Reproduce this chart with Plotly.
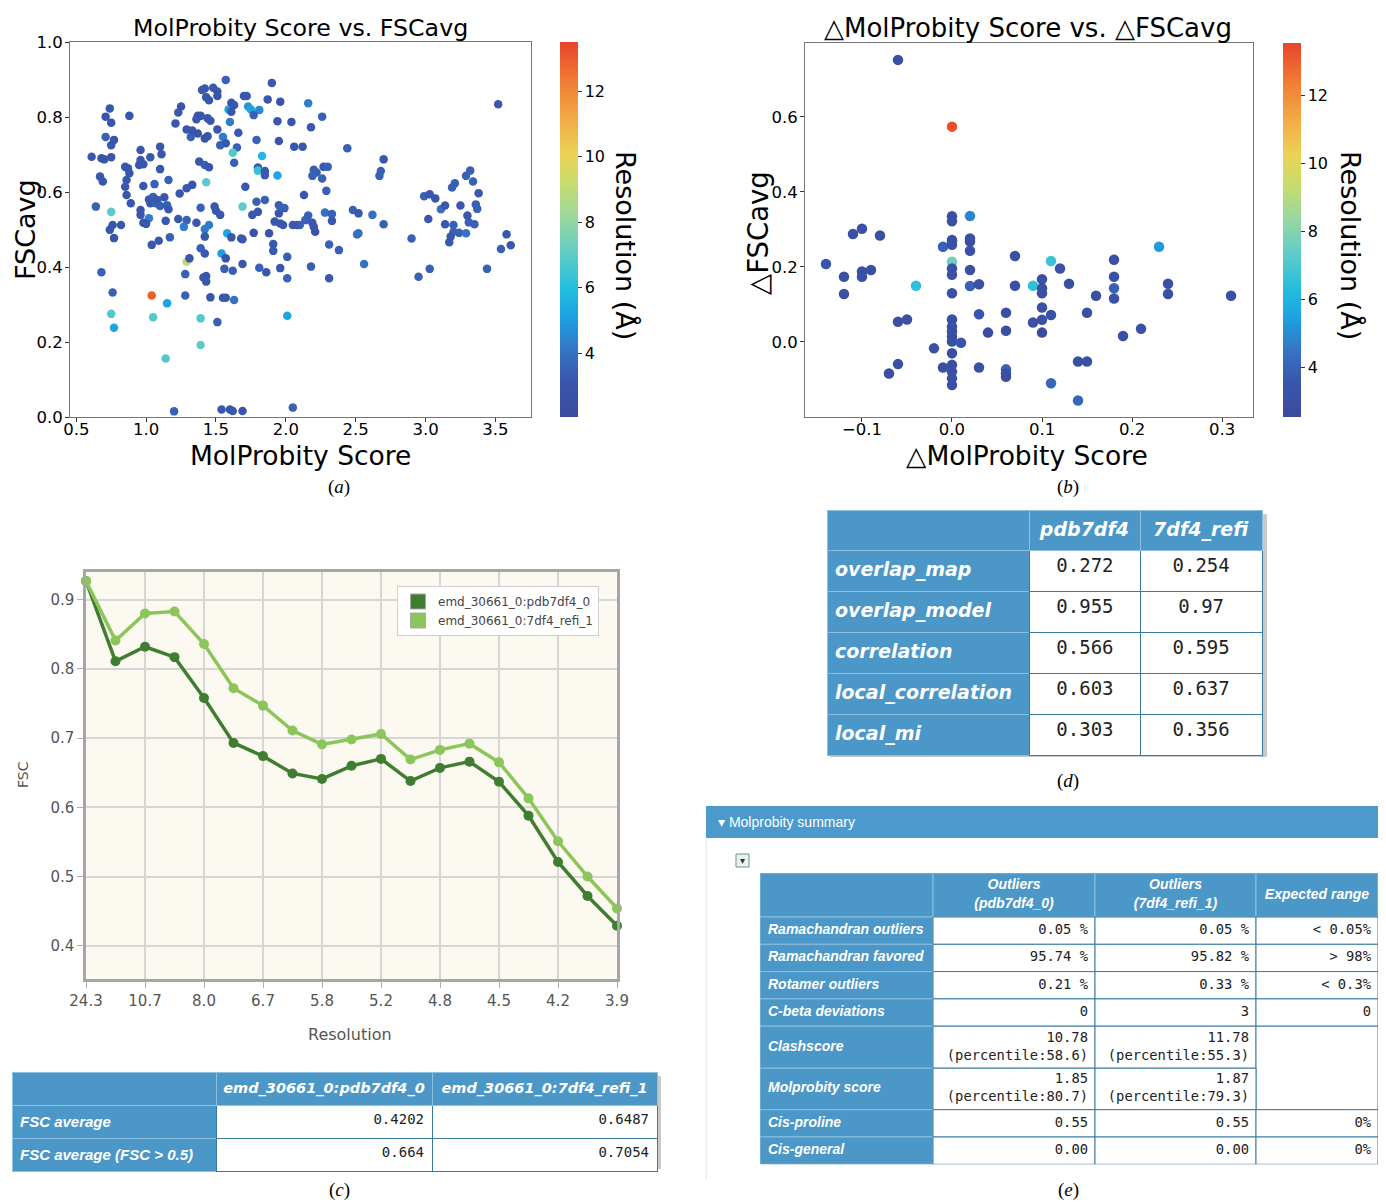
import plotly.graph_objects as go

W, H = 1386, 1202
OFF = 8  # the page body margin shifts the figure by 8 px
def fx(p): return (p - OFF) / W
def fy(p): return 1 - (p - OFF) / H

# ---------------- Panel (a): MolProbity score vs FSCavg ----------------
mp_score = [
    0.61,0.64,0.67,0.69,0.68,0.70,0.71,0.71,0.74,0.75,
    0.75,0.77,0.75,0.75,0.76,0.74,0.77,0.82,0.88,0.85,
    0.87,0.88,0.86,0.85,0.86,0.89,0.96,0.96,0.95,0.98,
    1.03,1.10,1.11,1.10,0.98,1.06,1.16,0.96,0.96,0.98,
    1.02,1.00,1.02,1.05,1.03,1.07,1.08,1.10,1.13,1.15,
    1.16,1.14,1.21,1.23,1.25,1.29,1.32,1.33,1.37,1.36,
    1.37,1.39,1.42,1.44,1.44,1.46,1.40,1.42,1.48,1.43,
    1.45,1.51,1.51,1.57,1.51,1.53,1.55,1.57,1.60,1.59,
    1.61,1.61,1.63,1.65,1.62,1.63,1.66,1.70,1.72,1.73,
    1.75,1.81,1.77,1.79,1.83,1.87,1.90,1.96,1.94,1.95,
    2.04,2.06,2.12,1.80,1.80,1.85,1.85,1.94,1.38,1.42,
    1.45,1.43,1.69,1.71,1.79,1.85,1.80,1.76,1.95,1.99,
    1.95,1.92,1.96,1.98,2.08,1.39,1.49,1.50,1.53,1.23,
    1.29,1.27,1.36,1.33,1.29,1.24,1.42,1.45,1.58,1.68,
    1.77,1.88,
    2.16,2.26,2.18,2.44,2.70,2.68,2.67,3.52,2.20,2.22,
    2.19,2.27,2.30,2.26,2.29,2.13,2.28,2.33,2.33,2.48,
    2.52,2.62,2.70,2.51,2.52,2.16,2.14,2.19,2.20,2.21,
    2.10,2.05,2.90,2.99,3.03,3.07,3.02,3.11,3.14,3.19,
    3.21,3.25,3.29,3.32,3.34,3.38,3.36,3.37,3.30,3.31,
    3.35,3.14,3.20,3.20,3.24,3.29,3.18,3.58,2.31,2.38,
    2.18,2.31,2.56,2.95,3.03,3.17,3.44,3.54,3.61,2.05,
    0.68,0.76,0.75,0.77,1.04,1.05,1.15,1.14,1.20,1.04,
    1.09,1.17,1.29,1.31,1.28,1.28,1.39,1.39,1.39,1.42,
    1.42,1.41,1.43,1.43,1.46,1.51,1.54,1.57,1.56,1.55,
    1.57,1.63,1.62,1.61,1.69,1.69,1.81,1.86,1.91,1.91,
    1.96,2.01,2.01,2.01,1.54,1.60,1.62,1.69,
]
fsc_avg = [
    0.694,0.561,0.641,0.628,0.690,0.687,0.747,0.801,0.823,0.785,
    0.725,0.739,0.693,0.547,0.512,0.499,0.477,0.512,0.803,0.667,
    0.663,0.650,0.632,0.614,0.592,0.570,0.712,0.685,0.672,0.674,
    0.693,0.721,0.701,0.661,0.616,0.621,0.632,0.552,0.539,0.518,
    0.530,0.515,0.580,0.587,0.570,0.570,0.579,0.563,0.586,0.565,
    0.554,0.523,0.783,0.812,0.828,0.767,0.747,0.764,0.756,0.794,
    0.803,0.803,0.743,0.749,0.797,0.790,0.872,0.876,0.878,0.853,
    0.845,0.868,0.856,0.899,0.767,0.725,0.747,0.730,0.787,0.820,
    0.814,0.838,0.832,0.719,0.705,0.678,0.758,0.856,0.856,0.828,
    0.820,0.819,0.805,0.739,0.696,0.847,0.891,0.841,0.789,0.736,
    0.787,0.721,0.721,0.665,0.657,0.656,0.645,0.644,0.681,0.672,
    0.666,0.626,0.561,0.614,0.574,0.579,0.547,0.539,0.565,0.557,
    0.543,0.521,0.516,0.512,0.512,0.558,0.561,0.550,0.539,0.528,
    0.525,0.507,0.518,0.619,0.610,0.596,0.501,0.512,0.490,0.476,
    0.491,0.490,
    0.837,0.801,0.773,0.717,0.687,0.656,0.643,0.834,0.659,0.652,
    0.643,0.667,0.667,0.636,0.603,0.592,0.545,0.541,0.523,0.552,
    0.543,0.539,0.514,0.487,0.490,0.537,0.525,0.518,0.507,0.494,
    0.512,0.512,0.476,0.589,0.594,0.583,0.528,0.554,0.564,0.612,
    0.623,0.564,0.643,0.657,0.628,0.597,0.567,0.555,0.537,0.519,
    0.514,0.514,0.512,0.494,0.491,0.490,0.481,0.487,0.460,0.445,
    0.401,0.370,0.408,0.374,0.395,0.466,0.395,0.448,0.458,0.025,
    0.386,0.332,0.275,0.238,0.324,0.266,0.303,0.156,0.015,0.459,
    0.470,0.479,0.414,0.423,0.381,0.324,0.263,0.192,0.450,0.436,
    0.481,0.372,0.376,0.361,0.319,0.253,0.436,0.423,0.395,0.318,
    0.318,0.312,0.390,0.479,0.474,0.408,0.398,0.386,0.461,0.443,
    0.397,0.427,0.370,0.270,0.020,0.020,0.016,0.016,
]
res_a = [
    3.2,3.5,3.2,3.2,3.2,3.0,3.5,3.0,3.2,3.0,
    3.2,3.0,3.2,7.0,3.0,3.2,3.0,3.2,3.2,3.2,
    3.0,3.2,3.2,3.2,3.0,3.2,3.2,3.2,3.0,3.2,
    3.2,3.2,3.2,3.2,3.2,3.5,3.5,3.2,3.2,3.2,
    4.3,3.2,3.2,3.5,3.2,3.5,3.2,3.5,3.2,3.5,
    3.2,3.2,3.2,3.2,3.0,3.2,3.5,3.2,3.0,3.2,
    3.2,3.0,2.6,3.0,3.2,3.2,3.2,3.2,3.2,3.0,
    3.2,3.2,3.0,3.5,3.2,3.5,4.3,3.2,4.3,5.0,
    3.2,3.2,3.2,3.5,6.8,3.5,3.2,3.2,3.2,4.8,
    5.2,4.5,3.5,3.5,5.8,3.2,3.2,3.0,3.2,3.2,
    3.2,3.2,3.0,3.2,6.2,3.2,3.2,5.2,3.2,3.5,
    3.2,7.0,7.0,3.2,3.5,3.5,3.2,3.2,3.5,3.5,
    3.2,3.2,3.2,3.2,3.2,3.5,3.2,3.2,3.2,3.2,
    3.5,4.3,3.2,3.2,3.2,3.2,4.3,4.3,5.2,3.2,
    3.0,3.0,
    4.3,3.5,3.2,3.5,3.2,3.5,3.5,3.2,3.5,3.5,
    3.5,3.2,3.5,3.5,3.5,3.2,4.0,3.5,3.2,3.5,
    3.2,4.0,3.5,4.0,4.0,3.5,3.5,3.2,3.2,3.0,
    3.5,3.2,3.5,3.5,3.2,3.2,3.2,4.0,3.2,3.5,
    3.5,3.2,3.5,3.5,3.5,3.2,3.5,3.5,3.2,3.5,
    3.5,3.2,3.5,3.5,3.5,4.0,3.2,3.2,3.5,3.5,
    3.5,3.2,4.0,3.5,3.5,3.2,3.5,3.5,3.2,3.5,
    3.5,3.5,6.8,5.2,13.0,6.8,5.2,6.8,3.5,3.2,
    3.2,3.5,9.0,3.2,3.5,3.5,6.8,7.0,3.5,3.2,
    3.2,3.2,3.2,3.2,3.2,3.5,5.0,3.0,3.5,3.2,
    3.2,4.0,3.5,3.2,3.2,3.2,3.5,3.2,3.2,3.2,
    3.2,3.5,3.5,5.2,3.2,3.2,3.2,3.2,
]

# ---------------- Panel (b): delta MolProbity vs delta FSCavg ----------------
d_mp = [
    -0.06,0.00,0.00,0.00,0.02,-0.11,-0.10,-0.08,0.00,0.02,
    0.02,-0.14,-0.12,-0.12,-0.10,-0.10,-0.09,-0.04,-0.06,-0.05,
    -0.06,-0.07,-0.02,-0.01,-0.01,0.00,0.00,0.00,0.00,0.00,
    0.00,0.00,0.00,0.00,0.00,0.00,0.00,0.00,0.00,0.00,
    0.00,0.01,0.02,0.02,0.02,0.03,0.03,0.04,0.03,0.06,
    0.06,0.06,0.06,0.06,0.07,0.07,0.09,0.09,0.10,0.10,
    0.10,0.10,0.10,0.10,0.11,0.11,0.12,0.13,0.11,0.14,
    0.15,0.14,0.15,0.16,0.18,0.18,0.18,0.18,0.19,0.21,
    0.23,0.24,0.24,0.31,
]
d_fsc = [
    0.752,0.574,0.322,0.335,0.336,0.288,0.302,0.284,0.272,0.276,
    0.268,0.208,0.174,0.128,0.188,0.174,0.192,0.150,0.054,0.060,
    -0.059,-0.084,-0.017,-0.068,0.254,0.268,0.259,0.214,0.196,0.179,
    0.130,0.060,0.041,0.028,0.014,0.001,-0.030,-0.061,-0.079,-0.097,
    -0.115,-0.002,0.243,0.192,0.149,0.154,0.074,0.025,-0.068,0.078,
    0.030,-0.073,-0.084,-0.093,0.229,0.150,0.150,0.052,0.167,0.143,
    0.130,0.092,0.059,0.025,0.216,0.072,0.196,0.155,-0.110,-0.052,
    -0.052,-0.156,0.078,0.123,0.219,0.174,0.143,0.116,0.016,0.035,
    0.254,0.155,0.128,0.123,
]
res_b = [
    3.0,13.3,3.0,3.0,4.8,3.0,3.0,3.0,3.0,3.0,
    3.0,3.5,3.0,3.0,3.0,3.0,3.0,6.5,3.0,3.0,
    3.0,3.0,3.0,3.0,3.9,3.0,3.0,7.6,3.0,3.0,
    3.0,3.0,3.0,3.0,2.8,3.0,2.8,3.0,3.0,3.0,
    3.0,3.5,3.0,3.0,3.9,3.0,3.5,2.6,3.0,3.0,
    3.0,4.0,3.0,3.0,3.0,3.0,6.5,3.0,3.0,3.0,
    3.0,3.0,3.0,2.6,6.7,3.0,3.0,3.0,4.1,3.0,
    3.0,4.1,3.0,3.0,3.0,3.0,3.9,3.0,3.0,3.0,
    5.3,3.0,3.0,3.0,
]

# ---------------- Panel (c): FSC curves ----------------
res_ticks = ["24.3", "10.7", "8.0", "6.7", "5.8", "5.2", "4.8", "4.5", "4.2", "3.9"]
shell_idx = list(range(19))
fsc_pdb = [0.927,0.811,0.832,0.817,0.758,0.693,0.674,0.649,0.641,0.660,
           0.670,0.638,0.657,0.666,0.637,0.588,0.521,0.472,0.429]
fsc_refi = [0.927,0.841,0.880,0.883,0.836,0.772,0.747,0.711,0.691,0.698,
            0.706,0.669,0.683,0.692,0.665,0.613,0.551,0.500,0.454]
name_pdb = "emd_30661_0:pdb7df4_0"
name_refi = "emd_30661_0:7df4_refi_1"

# table under (c)
fsc_rows = ["FSC average", "FSC average (FSC &gt; 0.5)"]
fsc_avg_pdb = ["0.4202", "0.664"]
fsc_avg_refi = ["0.6487", "0.7054"]

# ---------------- Panel (d) ----------------
d_rows = ["overlap_map", "overlap_model", "correlation", "local_correlation", "local_mi"]
d_pdb = ["0.272", "0.955", "0.566", "0.603", "0.303"]
d_refi = ["0.254", "0.97", "0.595", "0.637", "0.356"]

# ---------------- Panel (e) ----------------
e_header = ["", "Outliers<br>(pdb7df4_0)", "Outliers<br>(7df4_refi_1)", "Expected range"]
e_rows = ["Ramachandran outliers", "Ramachandran favored", "Rotamer outliers",
          "C-beta deviations", "Clashscore", "Molprobity score", "Cis-proline", "Cis-general"]
e_pdb = ["0.05 %", "95.74 %", "0.21 %", "0", "10.78<br>(percentile:58.6)",
         "1.85<br>(percentile:80.7)", "0.55", "0.00"]
e_refi = ["0.05 %", "95.82 %", "0.33 %", "3", "11.78<br>(percentile:55.3)",
          "1.87<br>(percentile:79.3)", "0.55", "0.00"]
e_expected = ["&lt; 0.05%", "&gt; 98%", "&lt; 0.3%", "0", "", "", "0%", "0%"]

# ---------------- styling ----------------
CS = [
    [0.00, '#3b4a9e'], [0.10, '#3957ad'], [0.18, '#3575c4'], [0.26, '#1c9fe0'],
    [0.34, '#23bde0'], [0.44, '#62cdc6'], [0.54, '#9fd89a'], [0.62, '#c6dc6e'],
    [0.70, '#ead356'], [0.80, '#f3a844'], [0.90, '#f07a34'], [1.00, '#e8442a'],
]
BLUE = '#4b97c8'
TLINE = '#3a7aa3'
BLINE = '#8dbfe0'
DARK = '#3f7d31'
LIGHT = '#8cc65a'
SANS = 'DejaVu Sans'
NARROW = 'Liberation Sans'
MONO = 'DejaVu Sans Mono'

def bi(t):
    return '<b><i>' + t + '</i></b>'

fig = go.Figure()

cbar_common = dict(thickness=18, thicknessmode='pixels', xanchor='left', yanchor='bottom',
                   xpad=0, ypad=0, outlinewidth=0, tickvals=[4, 6, 8, 10, 12],
                   ticks='outside', ticklen=4, tickcolor='#333',
                   tickfont=dict(family=SANS, size=16, color='black'), lenmode='fraction')

fig.add_trace(go.Scatter(
    x=mp_score, y=fsc_avg, mode='markers', xaxis='x', yaxis='y', showlegend=False,
    hoverinfo='skip',
    marker=dict(size=8.5, color=res_a, colorscale=CS, cmin=2.05, cmax=13.5, showscale=True,
                colorbar=dict(x=fx(560), y=fy(417), len=375 / H, **cbar_common))))

fig.add_trace(go.Scatter(
    x=d_mp, y=d_fsc, mode='markers', xaxis='x2', yaxis='y2', showlegend=False,
    hoverinfo='skip',
    marker=dict(size=10.5, color=res_b, colorscale=CS, cmin=2.53, cmax=13.53, showscale=True,
                colorbar=dict(x=fx(1283), y=fy(417), len=374 / H, **cbar_common))))

for vals, col, nm in [(fsc_pdb, DARK, name_pdb), (fsc_refi, LIGHT, name_refi)]:
    fig.add_trace(go.Scatter(
        x=shell_idx, y=vals, mode='lines+markers', xaxis='x3', yaxis='y3', showlegend=False,
        line=dict(color=col, width=3.5), marker=dict(color=col, size=10),
        cliponaxis=False, hoverinfo='skip', name=nm))
for col, nm in [(DARK, name_pdb), (LIGHT, name_refi)]:
    fig.add_trace(go.Scatter(
        x=[None], y=[None], mode='markers', xaxis='x3', yaxis='y3', name=nm,
        marker=dict(symbol='square', size=15, color=col, line=dict(color='#a8a8a8', width=1))))

# ---- table (d)
nd = len(d_rows)
fig.add_trace(go.Table(
    domain=dict(x=[fx(827), fx(1263)], y=[fy(800), fy(510)]),
    columnwidth=[203, 111, 122],
    header=dict(values=['', bi('pdb7df4'), bi('7df4_refi')], fill_color=BLUE,
                line=dict(color=BLINE, width=1), align='center', height=40,
                font=dict(family=SANS, size=19, color='white')),
    cells=dict(values=[[bi(r) for r in d_rows], d_pdb, d_refi],
               fill_color=[[BLUE] * nd, ['white'] * nd, ['white'] * nd],
               line=dict(color=[[BLINE] * nd, [TLINE] * nd, [TLINE] * nd], width=1),
               align=['left', 'center', 'center'], height=41,
               font=dict(family=[SANS, MONO, MONO], size=[19, 19, 19],
                         color=['white', '#222', '#222']))))

# ---- table under (c)
nc = len(fsc_rows)
fig.add_trace(go.Table(
    domain=dict(x=[fx(12), fx(657)], y=[fy(1200), fy(1072)]),
    columnwidth=[204, 216, 225],
    header=dict(values=['', bi(name_pdb), bi(name_refi)], fill_color=BLUE,
                line=dict(color=BLINE, width=1), align='center', height=31,
                font=dict(family=SANS, size=14.5, color='white')),
    cells=dict(values=[[bi(r) for r in fsc_rows], fsc_avg_pdb, fsc_avg_refi],
               fill_color=[[BLUE] * nc, ['white'] * nc, ['white'] * nc],
               line=dict(color=[[BLINE] * nc, [TLINE] * nc, [TLINE] * nc], width=1),
               align=['left', 'right', 'right'], height=31,
               font=dict(family=[NARROW, MONO, MONO], size=[15, 14, 14],
                         color=['white', '#222', '#222']))))

# ---- table (e): cells drawn on their own hidden axes (pixel-like units)
col_w_e = [173, 162, 161, 122]
row_h_e = [44, 27.3, 27.3, 27.3, 27.3, 42, 41.5, 27.3, 27.3]
col_x = [0]
for w in col_w_e:
    col_x.append(col_x[-1] + w)
row_y = [0]
for h in row_h_e:
    row_y.append(row_y[-1] + h)
TW, TH = col_x[-1], row_y[-1]
E_LEFT, E_TOP = 760, 873
e_cols = [e_pdb, e_refi, e_expected]

row_mid = [(row_y[r] + row_y[r + 1]) / 2 for r in range(len(row_h_e))]
col_mid = [(col_x[c] + col_x[c + 1]) / 2 for c in range(len(col_w_e))]

fig.add_trace(go.Scatter(
    x=col_mid[1:], y=[row_mid[0]] * 3, mode='text', text=[bi(t) for t in e_header[1:]],
    textposition='middle center', xaxis='x4', yaxis='y4', showlegend=False,
    hoverinfo='skip', cliponaxis=False,
    textfont=dict(family=NARROW, size=14, color='white')))
fig.add_trace(go.Scatter(
    x=[8] * len(e_rows), y=row_mid[1:], mode='text', text=[bi(t) for t in e_rows],
    textposition='middle right', xaxis='x4', yaxis='y4', showlegend=False,
    hoverinfo='skip', cliponaxis=False,
    textfont=dict(family=NARROW, size=14, color='white')))
for ci, colvals in enumerate(e_cols, start=1):
    fig.add_trace(go.Scatter(
        x=[col_x[ci + 1] - 7] * len(colvals), y=row_mid[1:], mode='text', text=colvals,
        textposition='middle left', xaxis='x4', yaxis='y4', showlegend=False,
        hoverinfo='skip', cliponaxis=False,
        textfont=dict(family=MONO, size=13.8, color='#222')))

# axes
mpl_axis = dict(showline=True, mirror=True, linecolor='#777', linewidth=1, ticks='outside',
                ticklen=4, tickcolor='#333', showgrid=False, zeroline=False,
                tickfont=dict(family=SANS, size=16.5, color='black'))
c_axis = dict(showline=True, mirror=True, linecolor='#a6a6a6', linewidth=2.5, ticks='outside',
              ticklen=6, tickcolor='#b0b0b0', showgrid=True, gridcolor='#d6d6d6', gridwidth=1.5,
              zeroline=False, tickfont=dict(family=SANS, size=15, color='#555'))
hidden = dict(visible=False, showgrid=False, zeroline=False, fixedrange=True)

fig.update_layout(
    width=W, height=H, margin=dict(l=0, r=0, t=0, b=0, autoexpand=False),
    paper_bgcolor='white', plot_bgcolor='rgba(0,0,0,0)',
    xaxis=dict(domain=[fx(70), fx(531)], range=[0.455, 3.755], anchor='y',
               tickvals=[0.5, 1.0, 1.5, 2.0, 2.5, 3.0, 3.5], tickformat='.1f',
               ticklabelstandoff=-7, **mpl_axis),
    yaxis=dict(domain=[fy(417), fy(42)], range=[0, 1], anchor='x',
               tickvals=[0, 0.2, 0.4, 0.6, 0.8, 1.0], tickformat='.1f',
               ticklabelstandoff=-1, **mpl_axis),
    xaxis2=dict(domain=[fx(805), fx(1253)], range=[-0.1633, 0.3344], anchor='y2',
                tickvals=[-0.1, 0.0, 0.1, 0.2, 0.3],
                ticktext=['\u22120.1', '0.0', '0.1', '0.2', '0.3'],
                ticklabelstandoff=-7, **mpl_axis),
    yaxis2=dict(domain=[fy(417), fy(43)], range=[-0.2, 0.797], anchor='x2',
                tickvals=[0.0, 0.2, 0.4, 0.6], tickformat='.1f',
                ticklabelstandoff=-1, **mpl_axis),
    xaxis3=dict(domain=[fx(86), fx(617)], range=[0, 18], anchor='y3',
                tickvals=shell_idx[::2], ticktext=res_ticks, **c_axis),
    yaxis3=dict(domain=[fy(979), fy(572)], range=[0.352, 0.94], anchor='x3',
                tickvals=[0.4, 0.5, 0.6, 0.7, 0.8, 0.9], tickformat='.1f', **c_axis),
    xaxis4=dict(domain=[fx(E_LEFT), fx(E_LEFT + TW)], range=[0, TW], anchor='y4', **hidden),
    yaxis4=dict(domain=[fy(E_TOP + TH), fy(E_TOP)], range=[TH, 0], anchor='x4', **hidden),
    legend=dict(x=fx(397), y=fy(586), xanchor='left', yanchor='top', bgcolor='white',
                bordercolor='#cfcfcf', borderwidth=1, tracegroupgap=2, itemwidth=30,
                font=dict(family=SANS, size=12, color='#444')),
)

shapes = [
    dict(type='rect', xref='x3 domain', yref='y3 domain', x0=0, x1=1, y0=0, y1=1,
         fillcolor='#fbf9f0', line=dict(width=0), layer='below'),
    dict(type='rect', xref='paper', yref='paper', x0=fx(706), x1=1.0, y0=fy(838), y1=fy(806),
         fillcolor='#4c9acd', line=dict(width=0)),
    dict(type='line', xref='paper', yref='paper', x0=fx(706), x1=fx(706), y0=fy(1180), y1=fy(838),
         line=dict(color='#e2e2e2', width=1)),
    dict(type='rect', xref='paper', yref='paper', x0=fx(736), x1=fx(749), y0=fy(867), y1=fy(854),
         fillcolor='#eef3ef', line=dict(color='#6f8f92', width=1)),
    # table shadows
    dict(type='rect', xref='paper', yref='paper', x0=fx(830), x1=fx(1267), y0=fy(757), y1=fy(514),
         fillcolor='#c9c9c9', line=dict(width=0), layer='below'),
    dict(type='rect', xref='paper', yref='paper', x0=fx(15), x1=fx(661), y0=fy(1169), y1=fy(1076),
         fillcolor='#c9c9c9', line=dict(width=0), layer='below'),
    dict(type='rect', xref='x4', yref='y4', x0=3, x1=TW + 4, y0=3, y1=TH + 4,
         fillcolor='#c9c9c9', line=dict(width=0), layer='below'),
]
# table (e) cells; the expected-range cell of Clashscore/Molprobity score is merged
merge_rows = [r for r in range(1, len(row_h_e)) if e_expected[r - 1] == '']
for r in range(len(row_h_e)):
    for c in range(len(col_w_e)):
        y0, y1 = row_y[r], row_y[r + 1]
        if c == 3 and r in merge_rows:
            if r != merge_rows[0]:
                continue
            y1 = row_y[merge_rows[-1] + 1]
        blue = (r == 0 or c == 0)
        shapes.append(dict(type='rect', xref='x4', yref='y4', x0=col_x[c], x1=col_x[c + 1],
                           y0=y0, y1=y1, fillcolor=BLUE if blue else 'white',
                           line=dict(color=BLINE if blue else TLINE, width=1), layer='below'))
fig.update_layout(shapes=shapes)

def ann(text, x, y, size, angle=0, family=SANS, color='black', xanchor='center'):
    return dict(text=text, x=fx(x), y=fy(y), xref='paper', yref='paper', showarrow=False,
                textangle=angle, xanchor=xanchor, yanchor='middle',
                font=dict(family=family, size=size, color=color))

annotations = [
    ann('MolProbity Score vs. FSCavg', 300, 28, 23.7),
    ann('MolProbity Score', 300, 455, 26.5),
    ann('FSCavg', 25, 230, 27, angle=-90),
    ann('Resolution (Å)', 626, 245, 27, angle=90),
    ann('\u25b3MolProbity Score vs. \u25b3FSCavg', 1028, 28, 26),
    ann('\u25b3MolProbity Score', 1027, 455, 26.5),
    ann('\u25b3FSCavg', 758, 233, 27.5, angle=-90),
    ann('Resolution (Å)', 1351, 245, 27, angle=90),
    ann('FSC', 23, 775, 14, angle=-90, color='#555'),
    ann('Resolution', 350, 1034, 16, color='#555'),
    ann('\u25be Molprobity summary', 716, 822, 14, family='Liberation Sans', color='white',
        xanchor='left'),
    ann('\u25be', 742.5, 860, 10, color='#333'),
    ann('(<i>a</i>)', 339, 487, 19, family='Liberation Serif'),
    ann('(<i>b</i>)', 1068, 487, 19, family='Liberation Serif'),
    ann('(<i>c</i>)', 339, 1190, 19, family='Liberation Serif'),
    ann('(<i>d</i>)', 1068, 781, 19, family='Liberation Serif'),
    ann('(<i>e</i>)', 1068, 1190, 19, family='Liberation Serif'),
]
fig.update_layout(annotations=annotations)

fig.write_html("out.html")
